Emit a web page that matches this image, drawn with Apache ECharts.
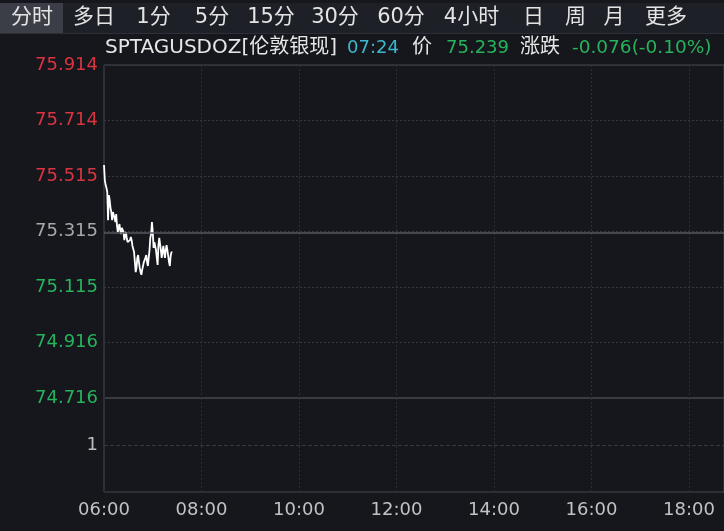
<!DOCTYPE html>
<html><head><meta charset="utf-8">
<script src="https://cdn.jsdelivr.net/npm/echarts@6/dist/echarts.min.js"></script>
<style>html,body{margin:0;padding:0;background:#15171c;}#c{width:724px;height:531px;}</style>
</head><body><div id="c"></div>
<script>
// ---- data ----
const tabLabels = ['分时','多日','1分','5分','15分','30分','60分','4小时','日','周','月','更多'];
const symbolName = 'SPTAGUSDOZ[伦敦银现]';
const lastTime = '07:24';
const priceLabel = '价';
const lastPrice = '75.239';
const changeLabel = '涨跌';
const changeText = '-0.076(-0.10%)';
const prevClose = 75.315;
const priceTicks = [74.716, 74.916, 75.115, 75.315, 75.515, 75.714, 75.914];
const volumeTicks = [1];
const timeTicks = [360, 480, 600, 720, 840, 960, 1080]; // minutes from 00:00
const startMinute = 360; // 06:00, one price per minute
const prices = [75.554,75.500,75.482,75.472,75.457,75.356,75.446,75.428,75.400,75.385,
75.356,75.385,75.374,75.364,75.349,75.378,75.335,75.313,75.328,75.342,
75.320,75.306,75.328,75.335,75.313,75.284,75.299,75.313,75.292,75.277,
75.284,75.270,75.284,75.295,75.284,75.263,75.256,75.241,75.205,75.169,
75.184,75.220,75.230,75.205,75.184,75.169,75.159,75.177,75.191,75.205,
75.212,75.220,75.230,75.205,75.191,75.220,75.248,75.292,75.306,75.349,
75.313,75.256,75.277,75.284,75.248,75.220,75.195,75.266,75.292,75.270,
75.248,75.220,75.241,75.263,75.241,75.220,75.248,75.266,75.248,75.227,
75.205,75.191,75.227,75.241,75.239];

const FONT = '"DejaVu Sans","Noto Sans CJK SC",sans-serif';
const seriesData = prices.map((p, i) => [startMinute + i, p]);
const fmtTime = v => String(Math.floor(v / 60)).padStart(2, '0') + ':' + String(v % 60).padStart(2, '0');

// tab bar graphics
const tabEdges = [0,64,124,183,241,301,369,433,510,557,594,634,698];
const graphics = [{type:'rect', shape:{x:0,y:3,width:724,height:30}, style:{fill:'#1d2026'}, silent:true}];
tabLabels.forEach((t, i) => {
  const x0 = tabEdges[i], x1 = tabEdges[i+1];
  graphics.push({type:'rect', shape:{x:x0,y:3,width:x1-x0-1,height:30},
    style:{fill: i === 0 ? '#3b3e46' : '#1d2026'}, silent:true});
  graphics.push({type:'text', x:(x0+x1)/2, y:18,
    style:{text:t, fill:'#e4e4e4', font:'21px ' + FONT, align:'center', verticalAlign:'middle'}, silent:true});
});
graphics.push({type:'rect', shape:{x:0,y:33,width:724,height:1}, style:{fill:'#2c2f35'}, silent:true});
// header line
const header = [
  {t:symbolName, x:105, c:'#e6e6e6', s:20},
  {t:lastTime, x:347, c:'#3db6cf', s:18},
  {t:priceLabel, x:412, c:'#e6e6e6', s:20},
  {t:lastPrice, x:446, c:'#27b35c', s:18},
  {t:changeLabel, x:520, c:'#e6e6e6', s:20},
  {t:changeText, x:572, c:'#27b35c', s:18.5}
];
header.forEach(h => graphics.push({type:'text', x:h.x, y:48,
  style:{text:h.t, fill:h.c, font:h.s + 'px ' + FONT, align:'left', verticalAlign:'middle'}, silent:true}));

const chart = echarts.init(document.getElementById('c'));
chart.setOption({
  backgroundColor:'#15171c',
  animation:false,
  textStyle:{fontFamily:FONT},
  graphic:graphics,
  grid:[
    {left:104, right:0, top:65, height:333, show:true, borderColor:'#45484f', borderWidth:1},
    {left:104, right:0, top:398, height:94, show:true, borderColor:'#45484f', borderWidth:1}
  ],
  xAxis:[
    {type:'value', gridIndex:0, min:360, max:1123,
     axisLine:{show:false}, axisTick:{show:false, customValues:timeTicks},
     axisLabel:{show:false, customValues:timeTicks},
     splitLine:{show:true, lineStyle:{color:'#2c2f36', type:[2,2]}}},
    {type:'value', gridIndex:1, min:360, max:1123,
     axisLine:{show:false}, axisTick:{show:false, customValues:timeTicks},
     axisLabel:{customValues:timeTicks, formatter:fmtTime, color:'#c2c2c2', fontSize:18, margin:9, fontFamily:FONT},
     splitLine:{show:true, lineStyle:{color:'#2c2f36', type:[2,2]}}}
  ],
  yAxis:[
    {type:'value', gridIndex:0, min:74.716, max:75.914,
     axisLine:{show:false}, axisTick:{show:false, customValues:priceTicks},
     axisLabel:{customValues:priceTicks, margin:6, fontSize:18, fontFamily:FONT,
       formatter:v => v.toFixed(3),
       color:v => Math.abs(v - prevClose) < 0.0005 ? '#a8a8a8' : (v > prevClose ? '#d9343f' : '#27b35c')},
     splitLine:{show:true, lineStyle:{color:'#363940', type:[2,2]}}},
    {type:'value', gridIndex:1, min:0, max:2,
     axisLine:{show:false}, axisTick:{show:false, customValues:volumeTicks},
     axisLabel:{customValues:volumeTicks, margin:6, fontSize:18, color:'#bdbdbd', fontFamily:FONT},
     splitLine:{show:true, lineStyle:{color:'#363940', type:[4,2]}}}
  ],
  series:[
    {type:'line', xAxisIndex:0, yAxisIndex:0, data:seriesData, showSymbol:false,
     lineStyle:{color:'#ffffff', width:1.8}, itemStyle:{color:'#ffffff'},
     markLine:{silent:true, symbol:'none', label:{show:false},
       lineStyle:{color:'#55585f', type:'solid', width:1.5},
       data:[{yAxis:prevClose}]}}
  ]
});
</script></body></html>
